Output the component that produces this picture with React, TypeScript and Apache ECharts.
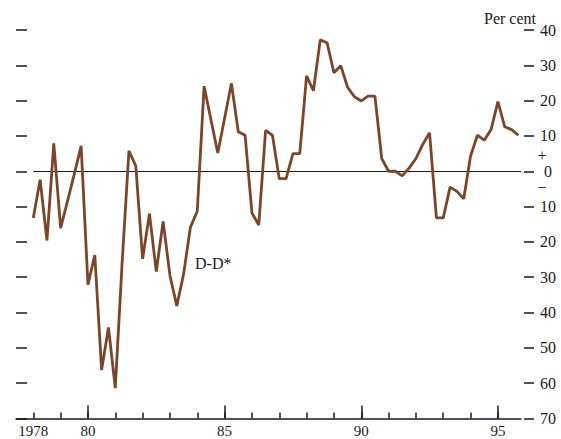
import React, { useEffect, useRef } from "react";
import * as echarts from "echarts";

const startYear = 1978;
const valuesDD: number[] = [
  -13.2, -2.4, -19.6, 7.9, -16.1, -8.5, -0.8, 7.2,
  -32.1, -23.7, -56.3, -44.2, -61.4, -26.0, 5.8, 1.5,
  -24.8, -12.0, -28.4, -14.2, -29.5, -38.1, -29.1, -15.8,
  -11.3, 24.1, 14.6, 5.2, 15.0, 24.9, 11.2, 10.2,
  -11.8, -15.2, 11.6, 10.2, -2.1, -2.1, 5.0, 5.0,
  27.0, 22.8, 37.2, 36.4, 27.9, 29.9, 23.8, 21.1,
  19.9, 21.3, 21.3, 3.6, 0.0, 0.0, -1.3, 0.9,
  3.6, 7.6, 10.9, -13.2, -13.2, -4.5, -5.7, -7.8,
  4.3, 10.2, 8.8, 11.8, 19.7, 12.6, 11.8, 10.2,
];
const minorTickYears = [1978, 1979, 1980, 1981, 1982, 1983, 1984, 1985, 1986, 1987, 1988, 1989, 1990, 1991, 1992, 1993, 1994, 1995];
const majorTickYears = [1980, 1985, 1990, 1995];
const labelYears = [1978, 1980, 1985, 1990, 1995];

const FONT = "Liberation Serif";
const INK = "#1a1a1a";
const LINE = "#7a4529";

export default function App() {
  const ref = useRef<HTMLDivElement>(null);
  useEffect(() => {
    if (!ref.current) return;
    const chart = echarts.init(ref.current, null, { renderer: "svg" });
    const data = valuesDD.map((v, i) => [startYear + i / 4, v]);
    const xMin = 1977.367;
    const xMax = 1995.845;
    chart.setOption({
      animation: false,
      backgroundColor: "#ffffff",
      grid: { left: 16, right: 40, top: 30, bottom: 20.5 },
      xAxis: [
        {
          type: "value",
          min: xMin,
          max: xMax,
          splitLine: { show: false },
          axisLine: { show: true, onZero: false, lineStyle: { color: INK, width: 1.5 } },
          axisTick: { show: true, inside: true, length: 6, customValues: minorTickYears, lineStyle: { color: INK, width: 1.5 } },
          axisLabel: {
            show: true,
            customValues: labelYears,
            margin: 5,
            fontFamily: FONT,
            fontSize: 15,
            color: INK,
            formatter: (v: number) => (v === 1978 ? "1978" : String(Math.round(v) % 100).padStart(2, "0")),
          },
        },
        {
          type: "value",
          min: xMin,
          max: xMax,
          position: "bottom",
          splitLine: { show: false },
          axisLine: { show: false, onZero: false },
          axisTick: { show: true, inside: true, length: 13, customValues: majorTickYears, lineStyle: { color: INK, width: 1.5 } },
          axisLabel: { show: false },
        },
      ],
      yAxis: [
        {
          type: "value",
          position: "right",
          min: -70,
          max: 40,
          interval: 10,
          offset: 3,
          splitLine: { show: false },
          axisLine: { show: false },
          axisTick: { show: true, inside: false, length: 10, lineStyle: { color: INK, width: 1.5 } },
          axisLabel: {
            margin: 24,
            align: "center",
            fontFamily: FONT,
            fontSize: 16,
            color: INK,
            formatter: (v: number) => String(Math.abs(v)),
          },
        },
        {
          type: "value",
          position: "left",
          min: -70,
          max: 40,
          interval: 10,
          splitLine: { show: false },
          axisLine: { show: false },
          axisTick: { show: true, inside: true, length: 11, lineStyle: { color: INK, width: 1.5 } },
          axisLabel: { show: false },
        },
      ],
      series: [
        {
          type: "line",
          name: "D-D*",
          xAxisIndex: 0,
          yAxisIndex: 0,
          data,
          showSymbol: false,
          symbol: "none",
          lineStyle: { color: LINE, width: 2.8 },
          z: 3,
          markLine: {
            silent: true,
            symbol: "none",
            label: { show: false },
            lineStyle: { color: INK, width: 1.2, type: "solid" },
            data: [[{ coord: [startYear, 0] }, { coord: [xMax, 0] }]],
            z: 2,
          },
        },
      ],
      graphic: [
        { type: "text", left: 484, top: 10, style: { text: "Per cent", font: `16px "${FONT}"`, fill: INK } },
        { type: "text", x: 542, y: 155, style: { text: "+", font: `16px "${FONT}"`, fill: INK, align: "center", verticalAlign: "middle" } },
        { type: "text", x: 542, y: 187, style: { text: "\u2212", font: `16px "${FONT}"`, fill: INK, align: "center", verticalAlign: "middle" } },
        { type: "text", x: 195, y: 263, style: { text: "D-D*", font: `16px "${FONT}"`, fill: INK, align: "left", verticalAlign: "middle" } },
      ],
    });
    return () => chart.dispose();
  }, []);
  return <div ref={ref} style={{ position: "fixed", left: 0, top: 0, width: 561, height: 439 }} />;
}
